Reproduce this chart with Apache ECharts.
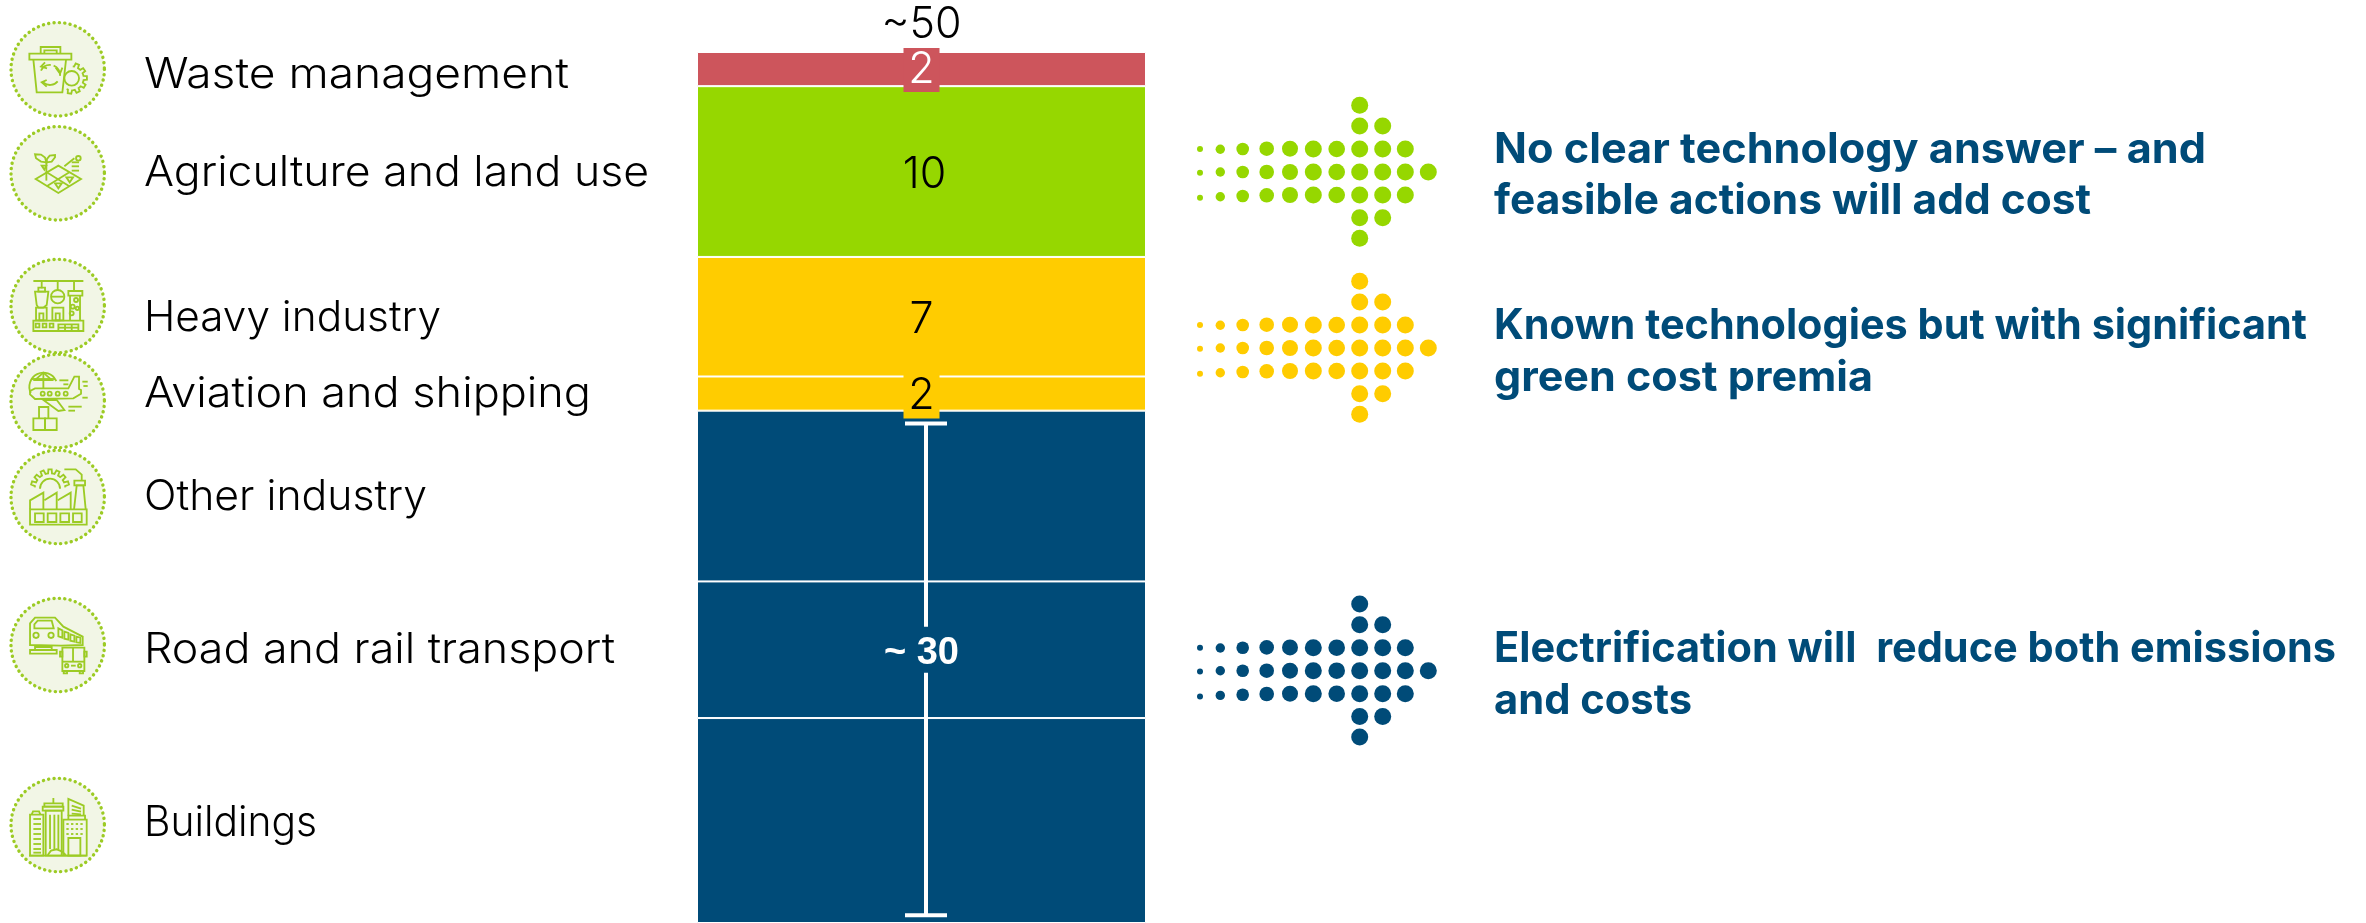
<!DOCTYPE html>
<html><head><meta charset="utf-8"><style>html,body{margin:0;padding:0;background:#fff}#c{width:2366px;height:923px}</style>
<script src="https://cdn.jsdelivr.net/npm/echarts@6/dist/echarts.min.js"></script></head><body><div id="c"></div>
<script>
// ---- chart data (bottom of the stack first) ----
const sectors = ['Buildings','Road and rail transport','Other industry','Aviation and shipping','Heavy industry','Agriculture and land use','Waste management'];
const values  = [12, 8, 10, 2, 7, 10, 2];
const segmentLabels = ['', '', '', '2', '7', '10', '2'];
const bracketRange = [0.45, 29.25];
const bracketLabelAt = 16;
const bracketLabel = '~ 30';
const totalLabel = '~50';
const messages = [
  ['No clear technology answer – and','feasible actions will add cost'],
  ['Known technologies but with significant','green cost premia'],
  ['Electrification will  reduce both emissions','and costs']
];
// ---- styles and layout ----
const RED='#cd555c', GREEN='#96d700', YELLOW='#ffcc00', BLUE='#004b78', ICON='#9ccb24', ICONBG='#f2f6e6';
const segmentColors=[BLUE,BLUE,BLUE,YELLOW,YELLOW,GREEN,RED];
const labelColors=['#fff','#fff','#fff','#000','#000','#000','#fff'];
const labelOffsets=[[0,0],[0,0],[0,0],[0,3],[0,3],[3,4],[0,1]];
const NUM_FONT='300 43px Inter';
const sectorTextY={ 'Waste management':75,'Agriculture and land use':173,'Heavy industry':318,'Aviation and shipping':394,'Other industry':497,'Road and rail transport':650,'Buildings':823 };
const sectorTextW={ 'Waste management':425,'Agriculture and land use':505,'Heavy industry':297,'Aviation and shipping':447,'Other industry':283,'Road and rail transport':471,'Buildings':173 };
const messageLayout=[{color:GREEN,y:[150,201],w:[712,597],arrow:172},{color:YELLOW,y:[326,378],w:[813,379],arrow:348},{color:BLUE,y:[649,701],w:[842,198],arrow:670.7}];

const ctx=document.createElement('canvas').getContext('2d');
function fitted(text,x,y,w,font,fill){ctx.font=font;const sx=w/ctx.measureText(text).width;
  return {type:'text',x,y,scaleX:sx,style:{text,x:0,y:0,font,fill,align:'left',verticalAlign:'middle'}};}
const g=[];
// sector labels
sectors.forEach(s=>g.push(fitted(s,144,sectorTextY[s],sectorTextW[s],'300 42px Inter','#000')));
// message text
messages.forEach((m,i)=>m.forEach((t,j)=>g.push(fitted(t,1494,messageLayout[i].y[j],messageLayout[i].w[j],'700 42px Inter',BLUE))));
// dotted arrows (decoration)
const colX=[1200,1220.3,1242.7,1266.7,1290,1313.3,1336.7,1359.7,1382.7,1405.3,1428.3];
const colR=[3,4.7,6.3,7.3,8,8.5,8.3,8.5,8.5,8.5,8.5];
const shiftUp=[0,0.3,0,-0.3,-0.3,0,0,0,0,0,0], shiftMid=[0.7,0,0,0,0,0,0,0,0,0,0], shiftLow=[2.7,1.7,1,0.3,0,0,0,0,0,0,0];
messageLayout.forEach(m=>{
  const dot=(c,dy)=>g.push({type:'circle',shape:{cx:colX[c],cy:m.arrow+dy,r:colR[c]},style:{fill:m.color}});
  [[-66.7,[7]],[-46,[7,8]]].forEach(([dy,cs])=>cs.forEach(c=>dot(c,dy)));
  for(let c=0;c<=9;c++)dot(c,-23+shiftUp[c]);
  for(let c=0;c<=10;c++)dot(c,shiftMid[c]);
  for(let c=0;c<=9;c++)dot(c,23+shiftLow[c]);
  [[45.7,[7,8]],[66.3,[7]]].forEach(([dy,cs])=>cs.forEach(c=>dot(c,dy)));
});
// icons: drawn at 3x in local units, origin = circle centre
function gear(cx,cy,r1,r2,n,a0,a1){const p=[];const st=(a1-a0)/n;for(let i=0;i<n;i++){const a=a0+i*st;
  [[0,r1],[.2,r1],[.3,r2],[.7,r2],[.8,r1],[1,r1]].forEach(([f,r])=>{const t=(a+f*st)*Math.PI/180;p.push([cx+r*Math.cos(t),cy+r*Math.sin(t)]);});}return ['p',p];}
const rows=(x1,x2,ys)=>ys.map(y=>['p',[[x1,y],[x2,y]]]);
const iconCentres=[69.3,173.3,306,401,497,645,825];
const icons=[
 // waste
 {o:[158,153],d:[['r',73,106,126,18],['p',[[107,106],[107,86],[166,86],[166,106]]],['p',[[118,106],[118,96],[155,96],[155,106]]],['p',[[85,124],[95,222],[172,222],[183,124]]],
   ['a',135,170,30,-2.7,-1.5],['a',135,170,30,-1.2,0.1],['a',135,170,30,0.7,2.4],['p',[[120,132],[108,145],[126,150]]],['p',[[152,148],[165,166],[172,148]]],['p',[[125,185],[110,192],[125,205]]],
   ['c',200,180,22],gear(200,180,36,46,6,-85,115)]},
 // agriculture
 {o:[158,153],d:[['g',[[92,170],[160,130],[228,170],[160,212]]],['p',[[125,150],[193,192]]],['p',[[193,150],[125,192]]],['p',[[124,110],[124,175]]],
   ['g',[[124,120],[108,118],[93,108],[90,96],[108,97],[120,106]]],['g',[[124,120],[140,118],[150,105],[150,98],[134,100],[126,110]]],['g',[[150,183],[170,183],[160,198]]],['g',[[184,165],[204,165],[194,180]]],['g',[[110,130],[124,130],[118,142]]],
   ['p',[[178,132],[208,108]]],['c',220,108,7],['p',[[200,120],[222,120]]],['p',[[200,132],[222,132]]],['p',[[200,145],[222,145]]]]},
 // heavy industry
 {o:[158,153],d:[['p',[[85,78],[235,78]]],['p',[[110,78],[110,100]]],['g',[[90,110],[130,110],[125,150],[115,158],[100,158],[95,150]]],['r',100,98,20,12],['r',93,158,32,38],['r',103,175,12,21],
   ['p',[[158,78],[158,105]]],['c',158,125,20],['p',[[140,125],[176,125]]],['r',142,158,33,38],['r',152,175,12,21],
   ['p',[[207,78],[207,105]]],['r',190,108,42,14],['p',[[195,122],[195,196]]],['p',[[225,122],[225,196]]],['c',213,135,6],['c',203,155,6],['c',217,160,5],['c',200,175,6],
   ['r',85,197,150,31],['r',92,206,11,11],['r',113,206,11,11],['r',134,206,11,11],['r',160,208,60,20],['p',[[160,218],[220,218]]],['p',[[180,208],[180,228]]],['p',[[200,208],[200,228]]]]},
 // aviation
 {o:[158,438],d:[['a',115,395,42,-3.6,-0.4],['p',[[115,353],[115,400]]],['g',[[115,353],[90,375],[140,375]]],['p',[[80,372],[150,372]]],
   ['g',[[90,400],[190,400],[208,365],[222,365],[222,402],[228,405],[228,416],[205,430],[90,432],[75,418],[75,408]]],['c',113,416,6],['c',134,416,6],['c',158,416,6],['c',182,416,6],
   ['g',[[115,435],[155,435],[178,465],[160,468]]],['r',85,490,35,35],['r',120,490,35,35],['p',[[102,490],[102,456],[130,456],[130,490]]],
   ['p',[[163,376],[190,376]]],['p',[[175,388],[190,388]]],['p',[[232,380],[248,380]]],['p',[[235,393],[248,393]]],['p',[[232,428],[248,428]]],['p',[[190,455],[230,455]]],['p',[[190,467],[210,467]]]]},
 // other industry
 {o:[158,155],d:[gear(135,130,46,58,7,185,355),['a',135,130,30,3.14,6.28],['r',75,192,170,46],['p',[[75,192],[75,165],[115,142],[115,192]]],['p',[[118,165],[155,142],[155,192]]],['p',[[158,165],[197,142],[197,192]]],
   ['p',[[207,192],[215,120],[235,120],[242,192]]],['r',208,106,32,14],['p',[[178,72],[212,72],[230,88],[230,106]]],['r',90,204,26,26],['r',128,204,26,26],['r',166,204,26,26],['r',204,204,26,26]]},
 // road & rail
 {o:[158,600],d:[['g',[[75,600],[75,535],[90,518],[150,518],[175,545],[233,575],[233,600],[168,602]]],['g',[[88,550],[88,538],[98,527],[140,527],[146,550]]],['c',93,571,8],['c',138,571,8],
   ['g',[[160,550],[172,556],[172,578],[160,574]]],['g',[[178,560],[190,564],[190,584],[178,581]]],['g',[[196,568],[208,572],[208,590],[196,587]]],['g',[[214,575],[226,578],[226,594],[214,592]]],
   ['r',75,615,80,11],['p',[[90,615],[90,606],[140,606],[140,615]]],['r',172,608,66,70],['p',[[204,608],[204,650]]],['p',[[172,650],[238,650]]],['c',185,662,5],['c',224,662,5],['p',[[198,662],[212,662]]],['r',176,678,10,7],['r',224,678,10,7],['r',165,620,7,15],['r',238,620,7,15]]},
 // buildings
 {o:[158,153],d:[['p',[[72,245],[245,245]]],['r',75,122,40,123],['p',[[80,122],[84,112],[102,112],[106,122]]],...rows(85,108,[135,150,165,180,195,210,225,236]),
   ['r',122,110,48,135],['r',113,98,62,12],['r',118,88,55,10],['p',[[145,72],[145,88]]],['p',[[135,122],[135,225]]],['p',[[148,122],[148,225]]],['p',[[160,122],[160,225]]],
   ['p',[[128,243],[138,230],[155,226],[170,232],[182,243]]],['r',175,137,70,108],['p',[[190,137],[190,125],[240,125],[240,137]]],['p',[[190,125],[190,75],[236,95],[236,125]]],
   ['p',[[200,95],[228,104]]],['p',[[200,107],[228,113]]],['p',[[200,119],[228,121]]],...rows(184,238,[150,165,180]).map(e=>['d',e[1]]),['r',190,192,36,53]]}
];
function prim(e){const st={stroke:ICON,lineWidth:5.5,fill:'none'};
  switch(e[0]){
   case 'r':return {type:'rect',shape:{x:e[1],y:e[2],width:e[3],height:e[4]},style:st};
   case 'c':return {type:'circle',shape:{cx:e[1],cy:e[2],r:e[3]},style:st};
   case 'a':return {type:'arc',shape:{cx:e[1],cy:e[2],r:e[3],startAngle:e[4],endAngle:e[5],clockwise:true},style:st};
   case 'p':return {type:'polyline',shape:{points:e[1]},style:st};
   case 'g':return {type:'polygon',shape:{points:e[1]},style:st};
   case 'd':return {type:'polyline',shape:{points:e[1]},style:{...st,lineDash:[7,7]}};
  }}
icons.forEach((ic,i)=>{const cy=iconCentres[i];
  g.push({type:'circle',shape:{cx:57.7,cy,r:46.7},style:{fill:ICONBG,stroke:ICON,lineWidth:3.4,lineDash:[0.1,5.3],lineCap:'round'}});
});
icons.forEach((ic,i)=>{const cy=iconCentres[i];
  g.push({type:'group',x:57.7-ic.o[0]/3,y:cy-ic.o[1]/3,scaleX:1/3,scaleY:1/3,children:ic.d.map(prim)});
});

const barSeries=sectors.map((s,i)=>({
  name:s,type:'bar',stack:'total',barWidth:'100%',data:[values[i]],
  itemStyle:{color:segmentColors[i],borderColor:'#fff',borderWidth:1},
  emphasis:{disabled:true},
  label:{show:!!segmentLabels[i],formatter:segmentLabels[i],position:'inside',offset:labelOffsets[i],
    color:labelColors[i],fontFamily:'Inter',fontWeight:300,fontSize:43,
    backgroundColor:values[i]<=2?segmentColors[i]:'transparent',width:36,height:values[i]<=2?44:42,lineHeight:values[i]<=2?44:42,align:'center',verticalAlign:'middle'}
}));
const overlay={type:'custom',coordinateSystem:'cartesian2d',z:5,silent:true,data:[[0]],
  renderItem(p,api){
    const top=api.coord([0,bracketRange[1]]), bot=api.coord([0,bracketRange[0]]), mid=api.coord([0,bracketLabelAt]), tot=api.coord([0,51]);
    const x=top[0]+4.5, line=(x1,y1,x2,y2)=>({type:'line',shape:{x1,y1,x2,y2},style:{stroke:'#fff',lineWidth:4}});
    return {type:'group',children:[
      line(x-21,top[1],x+21,top[1]),line(x-21,bot[1],x+21,bot[1]),
      line(x,top[1],x,mid[1]-23),line(x,mid[1]+23,x,bot[1]),
      {type:'text',style:{text:bracketLabel,x:top[0],y:mid[1]+4,font:'700 38px "Liberation Sans"',fill:'#fff',align:'center',verticalAlign:'middle'}},
      {type:'text',style:{text:totalLabel,x:top[0],y:tot[1]-27,font:NUM_FONT,fill:'#000',align:'center',verticalAlign:'middle'}}
    ]};
  }};
const chart=echarts.init(document.getElementById('c'),null,{renderer:'canvas',width:2366,height:923});
chart.setOption({animation:false,backgroundColor:'#fff',
  grid:{left:697,top:52,width:449,height:872,containLabel:false},
  xAxis:{type:'category',data:['Emissions'],show:false},
  yAxis:{type:'value',min:0,max:51,show:false},
  series:[...barSeries,overlay],graphic:{elements:g}});
</script></body></html>
